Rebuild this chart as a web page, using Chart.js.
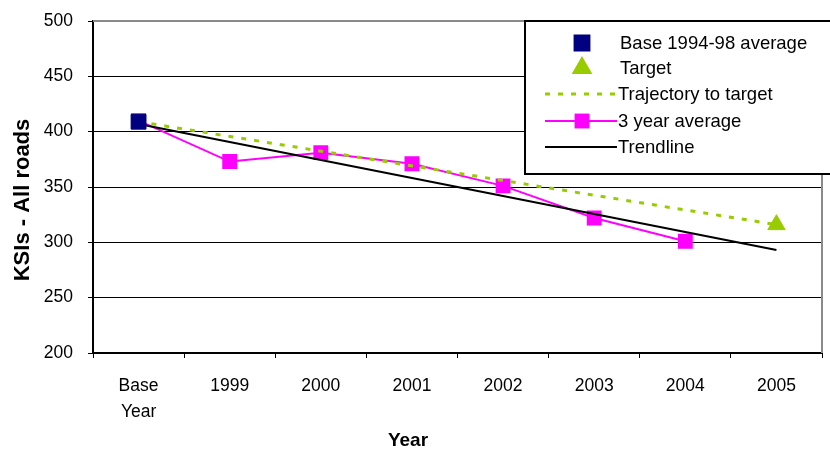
<!DOCTYPE html>
<html>
<head>
<meta charset="utf-8">
<title>KSIs - All roads</title>
<script src="https://cdn.jsdelivr.net/npm/chart.js@4/dist/chart.umd.min.js"></script>
<style>
  html, body { margin: 0; padding: 0; background: #fff; }
  canvas { display: block; }
</style>
</head>
<body>
<canvas id="chart" width="830" height="450"></canvas>
<script>
// Categories along the x axis
const categories = [['Base', 'Year'], '1999', '2000', '2001', '2002', '2003', '2004', '2005'];

// Series values (KSIs, all roads)
const baseAverage   = [409, null, null, null, null, null, null, null];
const targetValue   = [null, null, null, null, null, null, null, 316];
const trajectory    = [409, null, null, null, null, null, null, 316];
const threeYearAvg  = [410, 373, 381, 371, 351, 322, 301, null];
const trendline     = [407, null, null, null, null, null, null, 293];

// Y axis range
const yMin = 200;
const yMax = 500;
const yStep = 50;

const FONT = '"Liberation Sans", Arial, Helvetica, sans-serif';

// Legend rows, in display order
const legendRows = [
  { label: 'Base 1994-98 average', kind: 'point', ds: 0 },
  { label: 'Target',               kind: 'point', ds: 1 },
  { label: 'Trajectory to target', kind: 'line',  ds: 2 },
  { label: '3 year average',       kind: 'both',  ds: 4 },
  { label: 'Trendline',            kind: 'line',  ds: 3 }
];

// Keep the plot area fixed: no extra room reserved for overflowing tick labels
function noLabelPadding(scale) {
  scale.paddingTop = 0;
  scale.paddingBottom = 0;
  scale.paddingLeft = 0;
  scale.paddingRight = 0;
}

const decor = {
  id: 'decor',
  beforeDatasetsDraw(chart) {
    const { ctx, chartArea: a } = chart;
    ctx.save();
    ctx.strokeStyle = '#8a8a8a';
    ctx.lineWidth = 2;
    ctx.beginPath();
    ctx.moveTo(a.left, a.top);
    ctx.lineTo(a.right, a.top);
    ctx.lineTo(a.right, a.bottom);
    ctx.stroke();
    ctx.restore();
  },
  afterDraw(chart) {
    const { ctx } = chart;
    ctx.save();

    // Axis titles
    ctx.fillStyle = '#000';
    ctx.font = 'bold 22px ' + FONT;
    ctx.textAlign = 'center';
    ctx.textBaseline = 'middle';
    ctx.save();
    ctx.translate(23, 200);
    ctx.rotate(-Math.PI / 2);
    ctx.fillText('KSIs - All roads', 0, 0);
    ctx.restore();
    ctx.font = 'bold 19px ' + FONT;
    ctx.fillText('Year', 408, 441);

    // Legend box
    const bx = 525, by = 21, bw = 310, bh = 153;
    ctx.fillStyle = '#fff';
    ctx.fillRect(bx, by, bw, bh);
    ctx.strokeStyle = '#000';
    ctx.lineWidth = 2;
    ctx.strokeRect(bx, by, bw, bh);

    const rowY = [43, 68, 94, 121, 147];
    const x0 = 545, x1 = 617, mx = 582;
    legendRows.forEach((row, i) => {
      const ds = chart.data.datasets[row.ds];
      const y = rowY[i];
      if (row.kind === 'line' || row.kind === 'both') {
        ctx.save();
        ctx.strokeStyle = ds.borderColor;
        ctx.lineWidth = ds.borderWidth;
        ctx.setLineDash(ds.borderDash || []);
        ctx.beginPath();
        ctx.moveTo(x0, y);
        ctx.lineTo(x1, y);
        ctx.stroke();
        ctx.restore();
      }
      if (row.kind === 'point' || row.kind === 'both') {
        ctx.save();
        ctx.fillStyle = ds.pointBackgroundColor;
        ctx.strokeStyle = ds.pointBorderColor;
        Chart.helpers.drawPoint(ctx, {
          pointStyle: ds.pointStyle,
          radius: ds.pointRadius,
          rotation: 0,
          borderWidth: ds.pointBorderWidth
        }, mx, y);
        ctx.restore();
      }
      ctx.fillStyle = '#000';
      ctx.font = '18.5px ' + FONT;
      ctx.textAlign = 'left';
      ctx.textBaseline = 'middle';
      ctx.fillText(row.label, i < 2 ? 620 : 618, y + 1);
    });
    ctx.restore();
  }
};

new Chart(document.getElementById('chart'), {
  type: 'line',
  data: {
    labels: categories,
    datasets: [
      {
        label: 'Base 1994-98 average',
        data: baseAverage,
        showLine: false,
        pointStyle: 'rect',
        pointRadius: 10.5,
        pointBackgroundColor: '#000080',
        pointBorderColor: '#000080',
        pointBorderWidth: 1,
        borderColor: '#000080',
        backgroundColor: '#000080'
      },
      {
        label: 'Target',
        data: targetValue,
        showLine: false,
        pointStyle: 'triangle',
        pointRadius: 10,
        pointBackgroundColor: '#99CC00',
        pointBorderColor: '#99CC00',
        pointBorderWidth: 1,
        borderColor: '#99CC00',
        backgroundColor: '#99CC00'
      },
      {
        label: 'Trajectory to target',
        data: trajectory,
        spanGaps: true,
        borderColor: '#99CC00',
        borderWidth: 3,
        borderDash: [5, 8],
        pointRadius: 0,
        tension: 0,
        fill: false
      },
      {
        label: 'Trendline',
        data: trendline,
        spanGaps: true,
        borderColor: '#000000',
        borderWidth: 2,
        pointRadius: 0,
        tension: 0,
        fill: false
      },
      {
        label: '3 year average',
        data: threeYearAvg,
        borderColor: '#FF00FF',
        borderWidth: 2,
        pointStyle: 'rect',
        pointRadius: 10.5,
        pointBackgroundColor: '#FF00FF',
        pointBorderColor: '#FF00FF',
        pointBorderWidth: 0,
        tension: 0,
        fill: false
      }
    ]
  },
  options: {
    responsive: false,
    animation: false,
    events: [],
    layout: { autoPadding: false, padding: { top: 21, right: 8, left: 0, bottom: 0 } },
    plugins: {
      legend: { display: false },
      tooltip: { enabled: false },
      title: { display: false }
    },
    scales: {
      x: {
        offset: true,
        afterFit(scale) { scale.height = 97; noLabelPadding(scale); },
        grid: {
          offset: true,
          drawOnChartArea: false,
          drawTicks: true,
          tickLength: 5,
          tickColor: '#000',
          lineWidth: 1
        },
        border: { display: true, color: '#000', width: 2 },
        ticks: {
          color: '#000',
          font: { family: FONT, size: 17.5, lineHeight: 1.5 },
          padding: 15,
          maxRotation: 0,
          autoSkip: false
        }
      },
      y: {
        min: yMin,
        max: yMax,
        afterFit(scale) { scale.width = 93; noLabelPadding(scale); },
        grid: {
          color: '#000',
          lineWidth: 1,
          drawTicks: true,
          tickLength: 5,
          tickColor: '#000'
        },
        border: { display: true, color: '#000', width: 2 },
        ticks: {
          stepSize: yStep,
          color: '#000',
          font: { family: FONT, size: 17.5 },
          padding: 15
        }
      }
    }
  },
  plugins: [decor]
});
</script>
</body>
</html>
